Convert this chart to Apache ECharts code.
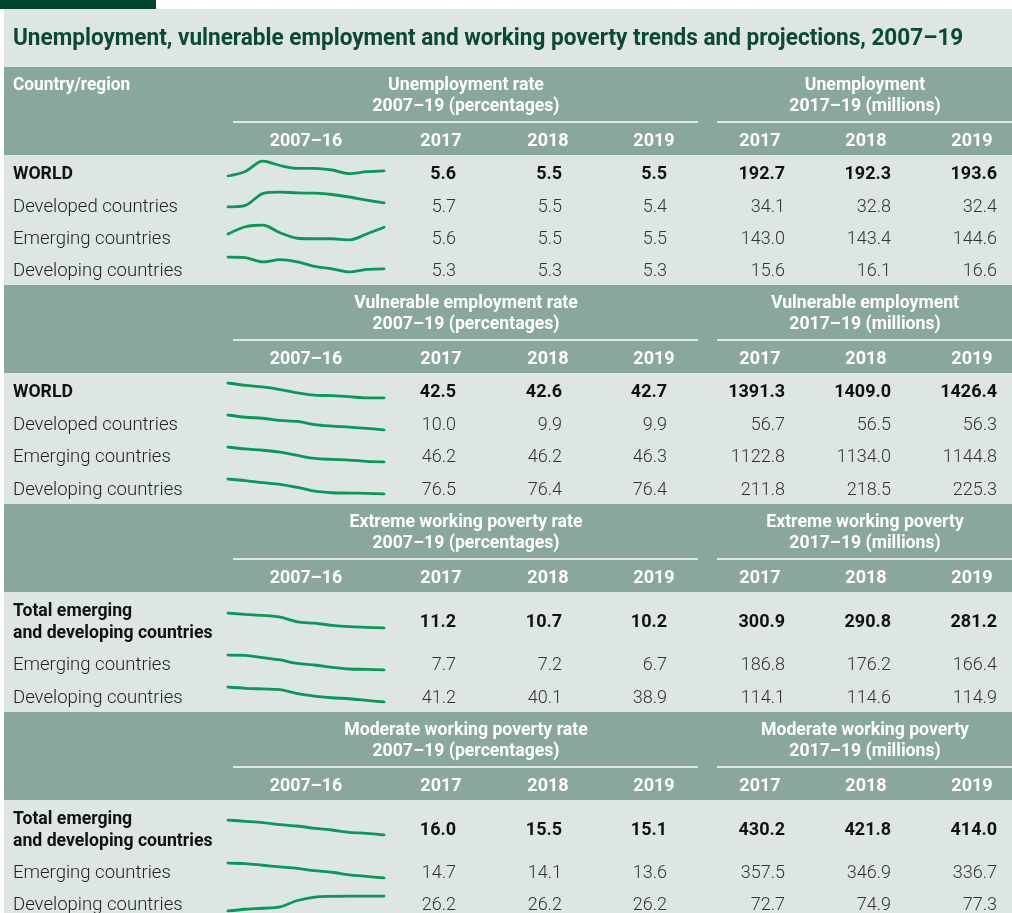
<!DOCTYPE html>
<html>
<head>
<meta charset="utf-8">
<script src="https://cdn.jsdelivr.net/npm/echarts@6/dist/echarts.min.js"></script>
<style>
  html, body { margin: 0; padding: 0; background: #fff; }
  #main { width: 1012px; height: 913px; }
</style>
</head>
<body>
<div id="main"></div>
<script>
  // years behind the little trend lines, and the projection years
  const trendYears = ['2007', '2008', '2009', '2010', '2011', '2012', '2013', '2014', '2015', '2016']
  const colYears = ['2017', '2018', '2019']

  const regions4 = ['WORLD', 'Developed countries', 'Emerging countries', 'Developing countries']
  const regions3 = ['Total emerging\nand developing countries', 'Emerging countries', 'Developing countries']

  // trend 2007-16
  const unempTrend = [
    [5.50, 5.71, 6.20, 5.99, 5.86, 5.86, 5.78, 5.61, 5.70, 5.74],
    [5.70, 5.98, 8.12, 8.40, 8.23, 8.18, 7.95, 7.50, 6.94, 6.43],
    [5.44, 5.73, 5.80, 5.49, 5.27, 5.25, 5.25, 5.20, 5.44, 5.71],
    [6.00, 5.97, 5.77, 5.88, 5.77, 5.56, 5.45, 5.30, 5.42, 5.45]
  ]
  const vulnTrend = [
    [46.8, 46.19, 45.76, 45.06, 44.19, 43.58, 43.41, 43.15, 42.8, 42.8],
    [11.2, 11.02, 10.94, 10.77, 10.69, 10.43, 10.31, 10.23, 10.13, 10.0],
    [50.0, 49.52, 49.2, 48.71, 47.91, 47.18, 46.94, 46.78, 46.46, 46.3],
    [80.5, 80.09, 79.53, 79.12, 78.31, 77.33, 76.93, 76.84, 76.76, 76.6]
  ]
  const extTrend = [
    [18.5, 17.86, 17.39, 16.59, 14.36, 13.73, 12.77, 12.14, 11.82, 11.5],
    [14.0, 13.87, 12.97, 12.07, 10.78, 10.13, 9.23, 8.59, 8.46, 8.2],
    [50.0, 49.33, 49.0, 48.66, 46.65, 45.31, 44.48, 43.97, 43.14, 42.3]
  ]
  const modTrend = [
    [21.4, 20.96, 20.51, 19.84, 19.4, 18.62, 18.07, 17.29, 16.96, 16.4],
    [19.5, 19.32, 18.86, 18.4, 17.95, 17.3, 16.85, 16.11, 15.66, 15.2],
    [24.4, 24.61, 24.73, 24.9, 25.66, 26.07, 26.16, 26.2, 26.2, 26.2]
  ]

  // 2017-19 table values
  const unempRate = [[5.6, 5.5, 5.5], [5.7, 5.5, 5.4], [5.6, 5.5, 5.5], [5.3, 5.3, 5.3]]
  const unempMillions = [[192.7, 192.3, 193.6], [34.1, 32.8, 32.4], [143.0, 143.4, 144.6], [15.6, 16.1, 16.6]]
  const vulnRate = [[42.5, 42.6, 42.7], [10.0, 9.9, 9.9], [46.2, 46.2, 46.3], [76.5, 76.4, 76.4]]
  const vulnMillions = [[1391.3, 1409.0, 1426.4], [56.7, 56.5, 56.3], [1122.8, 1134.0, 1144.8], [211.8, 218.5, 225.3]]
  const extRate = [[11.2, 10.7, 10.2], [7.7, 7.2, 6.7], [41.2, 40.1, 38.9]]
  const extMillions = [[300.9, 290.8, 281.2], [186.8, 176.2, 166.4], [114.1, 114.6, 114.9]]
  const modRate = [[16.0, 15.5, 15.1], [14.7, 14.1, 13.6], [26.2, 26.2, 26.2]]
  const modMillions = [[430.2, 421.8, 414.0], [357.5, 346.9, 336.7], [72.7, 74.9, 77.3]]

  const chartTitle = 'Unemployment, vulnerable employment and working poverty trends and projections, 2007–19'

  // layout of the four blocks
  const blocks = [
    { rateTitle: ['Unemployment rate', '2007–19 (percentages)'], numTitle: ['Unemployment', '2017–19 (millions)'],
      labels: regions4, trend: unempTrend, rate: unempRate, num: unempMillions,
      bandTop: 67, rows: [172, 205, 237, 269], sparkTop: [161, 192, 225, 257] },
    { rateTitle: ['Vulnerable employment rate', '2007–19 (percentages)'], numTitle: ['Vulnerable employment', '2017–19 (millions)'],
      labels: regions4, trend: vulnTrend, rate: vulnRate, num: vulnMillions,
      bandTop: 285, rows: [390, 423, 455, 488], sparkTop: [383, 415, 447, 479] },
    { rateTitle: ['Extreme working poverty rate', '2007–19 (percentages)'], numTitle: ['Extreme working poverty', '2017–19 (millions)'],
      labels: regions3, trend: extTrend, rate: extRate, num: extMillions,
      bandTop: 504, rows: [620, 663, 696], sparkTop: [613, 655, 687] },
    { rateTitle: ['Moderate working poverty rate', '2007–19 (percentages)'], numTitle: ['Moderate working poverty', '2017–19 (millions)'],
      labels: regions3, trend: modTrend, rate: modRate, num: modMillions,
      bandTop: 712, rows: [828, 871, 903], sparkTop: [820, 863, 896] }
  ]

  const colRight = [456, 562, 667, 785, 891, 997]
  const yearCenter = [441, 548, 654, 760, 866, 972]
  const bandColor = '#89a89b'
  const panelColor = '#dde6e2'
  const lineColor = '#07995b'
  const fontFam = 'Roboto, "Liberation Sans", sans-serif'

  // the text sits a bit high with verticalAlign middle, so push it down
  function txt (x, y, s, font, fill, align, sx) {
    return {
      type: 'text', x: x, y: y + 2, scaleX: sx || 1, silent: true, z: 5,
      style: { text: s, font: font, fill: fill, align: align || 'left', verticalAlign: 'middle' }
    }
  }

  let graphic = [
    { type: 'rect', silent: true, z: 0, shape: { x: 4, y: 9, width: 1008, height: 904 }, style: { fill: panelColor } },
    { type: 'rect', silent: true, z: 0, shape: { x: 0, y: 0, width: 156, height: 9 }, style: { fill: '#00432f' } },
    txt(13, 37, chartTitle, 'bold 24px ' + fontFam, '#0a4a33', 'left', 0.94)
  ]
  let grids = []
  let xAxes = []
  let yAxes = []
  let series = []

  blocks.forEach((b, bi) => {
    let t = b.bandTop
    graphic.push({ type: 'rect', silent: true, z: 1, shape: { x: 4, y: t, width: 1008, height: 88 }, style: { fill: bandColor } })
    graphic.push({ type: 'line', silent: true, z: 2, shape: { x1: 233, y1: t + 55, x2: 698, y2: t + 55 }, style: { stroke: '#fff', lineWidth: 1.5 } })
    graphic.push({ type: 'line', silent: true, z: 2, shape: { x1: 717, y1: t + 55, x2: 1012, y2: t + 55 }, style: { stroke: '#fff', lineWidth: 1.5 } })
    let hf = 'bold 18px ' + fontFam
    if (bi === 0) {
      graphic.push(txt(13, t + 16, 'Country/region', hf, '#fff', 'left', 0.96))
    }
    graphic.push(txt(466, t + 16, b.rateTitle[0], hf, '#fff', 'center', 0.98))
    graphic.push(txt(466, t + 37, b.rateTitle[1], hf, '#fff', 'center', 0.98))
    graphic.push(txt(865, t + 16, b.numTitle[0], hf, '#fff', 'center', 0.98))
    graphic.push(txt(865, t + 37, b.numTitle[1], hf, '#fff', 'center', 0.98))
    let yf = 'bold 18px ' + fontFam
    graphic.push(txt(306, t + 72, '2007–16', yf, '#fff', 'center', 0.99))
    colYears.concat(colYears).forEach((y, i) => {
      graphic.push(txt(yearCenter[i], t + 72, y, yf, '#fff', 'center', 1.0))
    })

    b.labels.forEach((lab, ri) => {
      let cy = b.rows[ri]
      let bold = ri === 0
      if (bold) {
        let parts = lab.split('\n')
        parts.forEach((p, pi) => {
          let ly = parts.length > 1 ? cy - 11 + pi * 22 : cy
          graphic.push(txt(13, ly, p, 'bold 18px ' + fontFam, '#111', 'left', 0.98))
        })
      } else {
        graphic.push(txt(13, cy, lab, '300 18px ' + fontFam, '#222', 'left', 1.03))
      }
      let vals = b.rate[ri].concat(b.num[ri])
      vals.forEach((v, ci) => {
        graphic.push(txt(colRight[ci], cy, v.toFixed(1),
          (bold ? 'bold ' : '300 ') + '18px ' + fontFam, bold ? '#111' : '#333', 'right', 1.0))
      })

      // sparkline
      let gi = grids.length
      grids.push({ left: 228, width: 156, top: b.sparkTop[ri], height: 15, containLabel: false })
      xAxes.push({ type: 'category', gridIndex: gi, data: trendYears, boundaryGap: false, show: false })
      yAxes.push({ type: 'value', gridIndex: gi, min: 'dataMin', max: 'dataMax', show: false })
      series.push({
        type: 'line', xAxisIndex: gi, yAxisIndex: gi, data: b.trend[ri],
        symbol: 'none', smooth: 0.3, silent: true, z: 10,
        lineStyle: { color: lineColor, width: 2.8, cap: 'round' }
      })
    })
  })

  let chart = echarts.init(document.getElementById('main'))
  chart.setOption({
    animation: false,
    backgroundColor: '#fff',
    grid: grids,
    xAxis: xAxes,
    yAxis: yAxes,
    series: series,
    graphic: graphic
  })
  window.addEventListener('resize', () => {
    chart.resize()
  })
</script>
</body>
</html>
